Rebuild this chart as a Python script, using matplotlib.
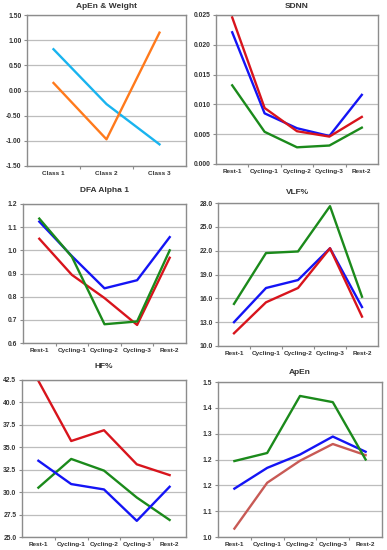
import numpy as np
import matplotlib
matplotlib.use('Agg')
import matplotlib.pyplot as plt
from matplotlib.ticker import FixedLocator

plt.rcParams['font.family'] = ['Liberation Sans', 'DejaVu Sans']

# ── Data ──────────────────────────────────────────────────────────────
classes = ['Class 1', 'Class 2', 'Class 3']
apen_weight_cyan = [0.82, -0.27, -1.07]
apen_weight_orange = [0.15, -0.97, 1.15]

phases = ['Rest-1', 'Cycling-1', 'Cycling-2', 'Cycling-3', 'Rest-2']

sdnn_red = [0.0246, 0.0094, 0.0055, 0.0046, 0.0079]
sdnn_blue = [0.0221, 0.0085, 0.0060, 0.0047, 0.0116]
sdnn_green = [0.0132, 0.0054, 0.0028, 0.0031, 0.0061]

dfa_blue = [1.124, 0.975, 0.836, 0.871, 1.057]
dfa_green = [1.137, 0.972, 0.681, 0.693, 1.000]
dfa_red = [1.050, 0.894, 0.794, 0.678, 0.968]

vlf_green = [15.3, 21.7, 21.9, 27.6, 16.2]
vlf_blue = [13.0, 17.3, 18.3, 22.3, 14.9]
vlf_red = [11.6, 15.5, 17.3, 22.3, 13.7]

hf_red = [42.4, 35.7, 36.9, 33.1, 31.9]
hf_blue = [33.5, 30.9, 30.3, 26.8, 30.6]
hf_green = [30.5, 33.7, 32.4, 29.4, 26.9]

apen_green = [1.245, 1.271, 1.455, 1.435, 1.250]
apen_blue = [1.156, 1.223, 1.266, 1.324, 1.275]
apen_red = [1.027, 1.175, 1.246, 1.300, 1.264]

W, H = 387, 550
fig = plt.figure(figsize=(W / 100, H / 100), dpi=100)
fig.patch.set_facecolor('white')

colors = {
    'orange': '#ff7a1c',
    'cyan': '#19b4ef',
    'blue': '#1414f5',
    'red': '#d8141c',
    'green': '#1b8a1b',
    'soft_red': '#c85a55',
    'grid': '#bdbdbd',
    'spine': '#8c8c8c',
    'text': '#333333',
}


def make_ax(left, right, top, bottom):
    # pixel box -> figure fraction
    ax = fig.add_axes([left / W, 1 - bottom / H, (right - left) / W, (bottom - top) / H])
    for s in ax.spines.values():
        s.set_color(colors['spine'])
        s.set_linewidth(1.0)
    ax.grid(True, axis='y', color=colors['grid'], linewidth=0.9)
    ax.set_axisbelow(True)
    ax.tick_params(axis='y', length=2.5, width=0.8, color=colors['spine'],
                   labelsize=4.9, labelcolor=colors['text'], pad=1.5)
    ax.tick_params(axis='x', which='major', length=0, labelsize=4.6,
                   labelcolor=colors['text'], pad=3.5)
    ax.tick_params(axis='x', which='minor', length=2.5, width=0.8, color=colors['spine'])
    return ax


def setup_cats(ax, cats):
    n = len(cats)
    ax.set_xlim(-0.5, n - 0.5)
    ax.set_xticks(range(n))
    ax.set_xticklabels(cats, fontweight='bold')
    ax.xaxis.set_minor_locator(FixedLocator(np.arange(0.5, n - 1, 1.0)))


def setup_y(ax, lo, hi, ticks, labels):
    ax.set_ylim(lo, hi)
    ax.set_yticks(ticks)
    ax.set_yticklabels(labels, fontweight='bold')


def title(ax, text, y_px):
    x0 = ax.get_position().x0
    x1 = ax.get_position().x1
    fig.text((x0 + x1) / 2, 1 - y_px / H, text, ha='center', va='center',
             fontsize=6, fontweight='bold', color=colors['text'])


lw = 1.7
x3 = np.arange(3)
x5 = np.arange(5)

# ── Panel 1: ApEn & Weight ───────────────────────────────────────────
ax1 = make_ax(27, 186, 15, 166)
setup_cats(ax1, classes)
ticks = np.arange(-1.5, 1.51, 0.5)
setup_y(ax1, -1.5, 1.5, ticks, [f'{v:.2f}' for v in ticks])
ax1.plot(x3, apen_weight_cyan, color=colors['cyan'], lw=lw)
ax1.plot(x3, apen_weight_orange, color=colors['orange'], lw=lw)
title(ax1, 'ApEn & Weight', 6)

# ── Panel 2: SDNN ────────────────────────────────────────────────────
ax2 = make_ax(216, 378, 15, 164)
setup_cats(ax2, phases)
ticks = np.arange(0, 0.0251, 0.005)
setup_y(ax2, 0, 0.025, ticks, [f'{v:.3f}' for v in ticks])
ax2.plot(x5, sdnn_green, color=colors['green'], lw=lw)
ax2.plot(x5, sdnn_blue, color=colors['blue'], lw=lw)
ax2.plot(x5, sdnn_red, color=colors['red'], lw=lw)
title(ax2, 'SDNN', 6)

# ── Panel 3: DFA Alpha 1 ─────────────────────────────────────────────
ax3 = make_ax(23, 186, 204, 343)
setup_cats(ax3, phases)
ticks = np.arange(0.6, 1.21, 0.1)
setup_y(ax3, 0.6, 1.2, ticks, [f'{v:.1f}' for v in ticks])
ax3.plot(x5, dfa_red, color=colors['red'], lw=lw)
ax3.plot(x5, dfa_blue, color=colors['blue'], lw=lw)
ax3.plot(x5, dfa_green, color=colors['green'], lw=lw)
title(ax3, 'DFA Alpha 1', 190)

# ── Panel 4: VLF% ────────────────────────────────────────────────────
ax4 = make_ax(218, 378, 203, 346)
setup_cats(ax4, phases)
ticks = np.arange(10, 28.1, 3)
setup_y(ax4, 10, 28, ticks, [f'{v:.1f}' for v in ticks])
ax4.plot(x5, vlf_green, color=colors['green'], lw=lw)
ax4.plot(x5, vlf_blue, color=colors['blue'], lw=lw)
ax4.plot(x5, vlf_red, color=colors['red'], lw=lw)
title(ax4, 'VLF%', 192)

# ── Panel 5: HF% ─────────────────────────────────────────────────────
ax5 = make_ax(22, 186, 380, 537)
setup_cats(ax5, phases)
ticks = np.arange(25, 42.6, 2.5)
setup_y(ax5, 25, 42.5, ticks, [f'{v:.1f}' for v in ticks])
ax5.plot(x5, hf_red, color=colors['red'], lw=lw)
ax5.plot(x5, hf_green, color=colors['green'], lw=lw)
ax5.plot(x5, hf_blue, color=colors['blue'], lw=lw)
title(ax5, 'HF%', 367)

# ── Panel 6: ApEn ────────────────────────────────────────────────────
ax6 = make_ax(218, 382, 382, 537)
setup_cats(ax6, phases)
ticks = np.linspace(1.0, 1.5, 7)
setup_y(ax6, 1.0, 1.5, ticks, ['1.0', '1.1', '1.2', '1.2', '1.3', '1.4', '1.5'])
ax6.plot(x5, apen_red, color=colors['soft_red'], lw=lw)
ax6.plot(x5, apen_blue, color=colors['blue'], lw=lw)
ax6.plot(x5, apen_green, color=colors['green'], lw=lw)
title(ax6, 'ApEn', 372)

fig.savefig('out.png', dpi=100, facecolor='white')
